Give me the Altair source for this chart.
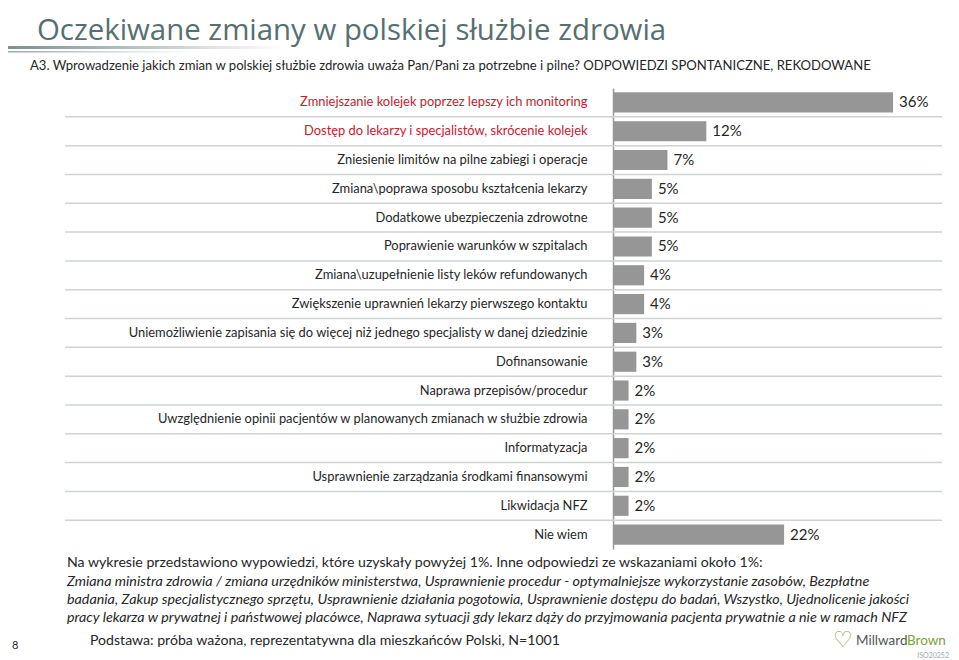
import altair as alt
import pandas as pd

title_text = "Oczekiwane zmiany w polskiej służbie zdrowia"
subtitle_text = ("A3. Wprowadzenie jakich zmian w polskiej służbie zdrowia uważa Pan/Pani za potrzebne i pilne? "
                 "ODPOWIEDZI SPONTANICZNE, REKODOWANE")

categories = [
    "Zmniejszanie kolejek poprzez lepszy ich monitoring",
    "Dostęp do lekarzy i specjalistów, skrócenie kolejek",
    "Zniesienie limitów na pilne zabiegi i operacje",
    "Zmiana\\poprawa sposobu kształcenia lekarzy",
    "Dodatkowe ubezpieczenia zdrowotne",
    "Poprawienie warunków w szpitalach",
    "Zmiana\\uzupełnienie listy leków refundowanych",
    "Zwiększenie uprawnień lekarzy pierwszego kontaktu",
    "Uniemożliwienie zapisania się do więcej niż jednego specjalisty w danej dziedzinie",
    "Dofinansowanie",
    "Naprawa przepisów/procedur",
    "Uwzględnienie opinii pacjentów w planowanych zmianach w służbie zdrowia",
    "Informatyzacja",
    "Usprawnienie zarządzania środkami finansowymi",
    "Likwidacja NFZ",
    "Nie wiem",
]
values = [36, 12, 7, 5, 5, 5, 4, 4, 3, 3, 2, 2, 2, 2, 2, 22]
highlighted = categories[:2]

note_line1 = ("Na wykresie przedstawiono wypowiedzi, które uzyskały powyżej 1%. "
              "Inne odpowiedzi ze wskazaniami około 1%:")
note_lines_italic = [
    "Zmiana ministra zdrowia / zmiana urzędników ministerstwa, Usprawnienie procedur - optymalniejsze wykorzystanie zasobów, Bezpłatne",
    "badania, Zakup specjalistycznego sprzętu, Usprawnienie działania pogotowia, Usprawnienie dostępu do badań, Wszystko, Ujednolicenie jakości",
    "pracy lekarza w prywatnej i państwowej placówce, Naprawa sytuacji gdy lekarz dąży do przyjmowania pacjenta prywatnie a nie w ramach NFZ",
]
base_text = "Podstawa: próba ważona, reprezentatywna dla mieszkańców Polski, N=1001"
page_number = "8"
logo_parts = ["Millward", "Brown"]
iso_text = "ISO20252"

df = pd.DataFrame({
    "cat": categories,
    "value": values,
    "label": [f"{v}%" for v in values],
})
grid_df = pd.DataFrame({"cat": categories[1:]})

FONT = "Lato"
y_enc = alt.Y("cat:N", sort=categories,
              scale=alt.Scale(paddingInner=0, paddingOuter=0),
              axis=alt.Axis(title=None, ticks=False, tickSize=0, labelPadding=26,
                            labelFont=FONT, labelFontSize=12.9, labelLimit=600,
                            labelColor=alt.ExprRef(
                                "indexof(" + str(highlighted) + ", datum.value) >= 0 ? '#c8202f' : '#262626'"),
                            domainColor="#9a9a9a", domainWidth=1.5, grid=False))
x_enc = alt.X("value:Q", scale=alt.Scale(domain=[0, 42.3], nice=False, zero=True), axis=None)

grid = alt.Chart(grid_df).mark_rule(color="#cfd3d3", strokeWidth=1.5).encode(
    y=alt.Y("cat:N", sort=categories, bandPosition=0),
    x=alt.value(-548), x2=alt.value(329),
)

bars = alt.Chart(df).mark_bar(color="#969696", height=alt.RelativeBandSize(0.7)).encode(
    y=y_enc, x=x_enc,
)

value_labels = alt.Chart(df).mark_text(align="left", baseline="middle", dx=6,
                                       font=FONT, fontSize=15, color="#262626").encode(
    y=alt.Y("cat:N", sort=categories), x="value:Q", text="label:N",
)


def txt(s, x, y, size, color="#262626", italic=False, align="left", font=FONT, weight="normal"):
    return alt.Chart(pd.DataFrame({"t": [s]})).mark_text(
        align=align, baseline="middle", font=font, fontSize=size, color=color,
        fontStyle="italic" if italic else "normal", fontWeight=weight,
    ).encode(x=alt.value(x), y=alt.value(y), text="t:N")


def band(x1, x2, y1, y2, c):
    return alt.Chart(pd.DataFrame({"a": [0]})).mark_rect(
        color=alt.LinearGradient(gradient="linear", x1=0, x2=1, y1=0, y2=0,
                                 stops=[alt.GradientStop(color=c, offset=0),
                                        alt.GradientStop(color="#ffffff", offset=1)])
    ).encode(x=alt.value(x1), x2=alt.value(x2), y=alt.value(y1), y2=alt.value(y2))


layers = [
    grid, bars, value_labels,
    txt(title_text, -576, -57, 29.4, color="#566f6f", font="Open Sans"),
    band(-605, -330, -42, -39, "#7d8f8f"),
    band(-605, -420, -37, -35.5, "#9aa8a8"),
    txt(subtitle_text, -583, -22, 13.1),
    txt(note_line1, -546, 475, 14.15),
    txt(note_lines_italic[0], -546, 494, 14.3, italic=True),
    txt(note_lines_italic[1], -546, 512, 14.3, italic=True),
    txt(note_lines_italic[2], -546, 530, 14.3, italic=True),
    txt(base_text, -523, 553, 14.1),
    txt(page_number, -601, 558, 11),
    txt("♡", 220, 552, 22, color="#7aa23a", font="DejaVu Sans", weight="bold"),
    txt(logo_parts[0], 243, 553, 13.5, color="#555555"),
    txt(logo_parts[1], 294, 553, 13.5, color="#7aa23a", align="left"),
    txt(iso_text, 336, 568, 7, color="#9aa8b8", align="right"),
]

chart = alt.layer(*layers).properties(
    width=329, height=461,
    autosize=alt.AutoSizeParams(type="none"),
    padding={"left": 605, "top": 80, "right": 9, "bottom": 110},
    background="white",
).configure_view(stroke=None)

chart.save("out.html", embed_options={"renderer": "svg", "actions": False})
